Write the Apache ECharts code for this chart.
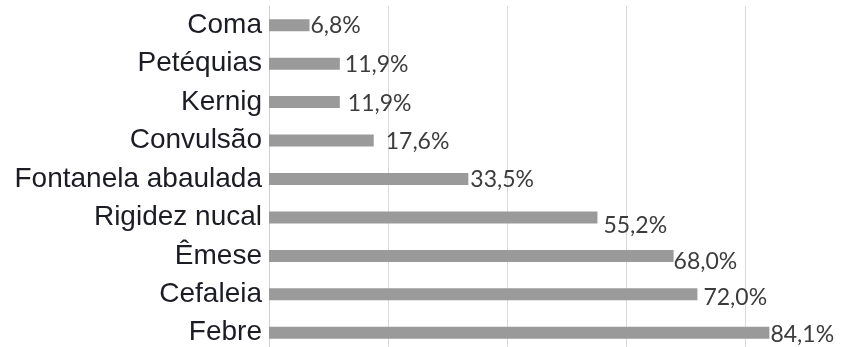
<!DOCTYPE html>
<html>
<head>
<meta charset="utf-8">
<title>Sinais e sintomas</title>
<script src="https://cdn.jsdelivr.net/npm/echarts@6/dist/echarts.min.js"></script>
<style>
  html, body { margin: 0; padding: 0; background: #ffffff; }
  #chart { width: 845px; height: 347px; }
</style>
</head>
<body>
<div id="chart"></div>
<script>
// Symptoms, listed from top to bottom
const categories = [
  'Coma', 'Petéquias', 'Kernig', 'Convulsão', 'Fontanela abaulada',
  'Rigidez nucal', 'Êmese', 'Cefaleia', 'Febre'
];
// Frequency of each symptom (%)
const values = [6.8, 11.9, 11.9, 17.6, 33.5, 55.2, 68.0, 72.0, 84.1];
// Value axis gridline steps
const axisTicks = [0, 20, 40, 60, 80, 100];

// Hand-placed nudges for each data label: [gap from bar end, vertical shift]
const labelNudge = [
  [1, 0], [5, 1], [8, 1], [12, 1], [2, 1],
  [6, 8], [0, 6], [6, 3], [1, 2]
];

const chart = echarts.init(document.getElementById('chart'), null, { renderer: 'canvas' });

const fmt = v => v.toFixed(1).replace('.', ',') + '%';

chart.setOption({
  animation: false,
  backgroundColor: '#ffffff',
  // the plot runs past the right and bottom edges of the canvas
  grid: { left: 269, top: 6, width: 595, height: 346, containLabel: false, outerBoundsMode: 'none' },
  xAxis: {
    type: 'value',
    min: axisTicks[0],
    max: axisTicks[axisTicks.length - 1],
    interval: axisTicks[1] - axisTicks[0],
    axisLine: { show: false },
    axisTick: { show: false },
    axisLabel: { show: false },
    splitLine: { show: true, lineStyle: { color: '#d9d9d9', width: 1 } }
  },
  yAxis: {
    type: 'category',
    inverse: true,
    data: categories,
    axisLine: { show: true, lineStyle: { color: '#cfcfcf', width: 1 } },
    axisTick: { show: false },
    axisLabel: {
      margin: 7,
      color: '#1c1d24',
      fontFamily: '"Liberation Sans", Arial, sans-serif',
      fontSize: 28
    }
  },
  series: [{
    type: 'bar',
    barWidth: 12,
    itemStyle: { color: '#9a9a9a' },
    data: values.map((v, i) => ({
      value: v,
      label: {
        show: true,
        position: 'right',
        distance: labelNudge[i][0],
        offset: [0, labelNudge[i][1]],
        formatter: () => fmt(v),
        color: '#3c3c3c',
        fontFamily: 'Lato, "Open Sans", sans-serif',
        fontSize: 23
      }
    }))
  }]
});
</script>
</body>
</html>
